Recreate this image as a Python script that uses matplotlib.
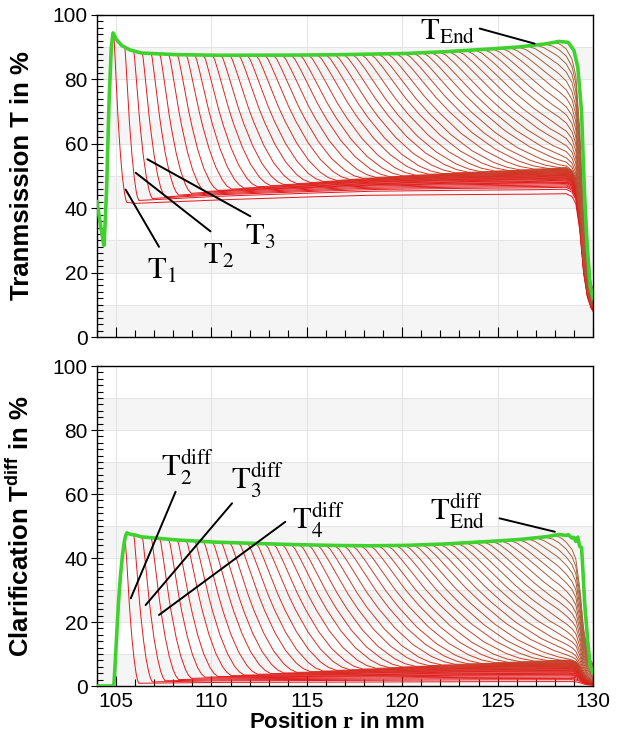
import numpy as np
import matplotlib
matplotlib.use("Agg")
import matplotlib.pyplot as plt
from matplotlib.colors import LinearSegmentedColormap

plt.rcParams['font.family'] = ['Liberation Sans', 'DejaVu Sans']
plt.rcParams['mathtext.fontset'] = 'custom'
plt.rcParams['mathtext.rm'] = 'Liberation Sans:bold'
plt.rcParams['mathtext.it'] = 'Liberation Sans:bold'
plt.rcParams['mathtext.bf'] = 'Liberation Sans:bold'

# ---------------- data ----------------
# final (end) transmission profile T_End
end_r = [104.0, 104.15, 104.37, 104.5, 104.63, 104.75, 104.84, 105.0, 105.3, 105.7, 106.3,
         108.0, 110.0, 113.0, 116.0, 118.0, 120.0, 122.0, 124.0, 126.0, 127.5, 128.2, 128.7,
         129.0, 129.2, 129.4, 129.55, 129.7, 129.85, 130.0]
end_T = [42, 36, 28, 45, 73, 90, 94.5, 92.5, 90.5, 89.2, 88.2,
         87.7, 87.5, 87.5, 87.6, 87.8, 88.0, 88.5, 89.2, 90.0, 91.0, 91.8, 91.5,
         89.0, 84.0, 70.0, 45.0, 28.0, 16.0, 12.0]
n_plateau = 23  # points of end profile that form the clear plateau (up to 128.7 mm)

# lower (turbid) level of the first profile T_1
low_r = [104.0, 105.3, 106.0, 108.0, 110.0, 114.0, 118.0, 122.0, 126.0, 128.7]
low_T = [42.0, 42.0, 41.5, 42.0, 42.5, 43.3, 44.0, 44.2, 44.3, 44.5]

# rise of the turbid level for the latest profiles
rise_r = [104.0, 105.0, 110.0, 116.0, 122.0, 128.7]
rise_D = [5.5, 5.5, 8.0, 8.5, 9.5, 10.0]

# drop of all red profiles at the cell bottom
wall_r = [104.0, 128.6, 128.9, 129.1, 129.3, 129.5, 129.7, 129.9, 130.0]
wall_f = [1.0, 1.0, 0.98, 0.93, 0.75, 0.45, 0.28, 0.20, 0.18]

# shape of a sedimentation front (fraction of clear level vs relative position in front)
shape_s = [-0.05, 0.0, 0.03, 0.08, 0.15, 0.25, 0.35, 0.5, 0.65, 0.8, 0.9, 1.0]
shape_G = [1.0, 0.995, 0.97, 0.90, 0.79, 0.63, 0.49, 0.31, 0.17, 0.07, 0.025, 0.0]

# position where each profile leaves the clear plateau (mm)
front_top = [104.88, 105.46, 105.93, 106.38, 106.85, 107.30, 107.77, 108.22, 108.69, 109.14,
             109.60, 110.07, 110.52, 110.98, 111.45, 111.90, 112.36, 112.83, 113.28, 113.74,
             114.21, 114.66, 115.12, 115.59, 116.04, 116.50, 116.97, 117.42, 117.88, 118.35,
             118.80, 119.26, 119.73, 120.18, 120.64, 121.11, 121.56, 122.02, 122.49, 122.94,
             123.40, 123.87, 124.32, 124.78, 125.25, 125.70, 126.16, 126.63, 127.08, 127.54,
             128.00]
# length of each front (mm)
front_len = [0.68, 0.73, 0.97, 1.19, 1.43, 1.65, 1.89, 2.11, 2.35, 2.57,
             2.80, 3.04, 3.26, 3.49, 3.73, 3.95, 4.18, 4.42, 4.64, 4.87,
             5.11, 5.33, 5.56, 5.80, 6.02, 6.25, 6.49, 6.71, 6.94, 7.18,
             7.40, 7.63, 7.87, 8.09, 8.32, 8.56, 8.78, 9.01, 9.25, 9.47,
             9.70, 9.94, 10.16, 10.39, 10.63, 10.85, 11.08, 11.32, 11.54, 11.77,
             12.00]
# relative rise of the turbid level of each profile
level_rise = [0.00, 0.14, 0.20, 0.24, 0.28, 0.32, 0.35, 0.37, 0.40, 0.42,
              0.45, 0.47, 0.49, 0.51, 0.53, 0.55, 0.57, 0.58, 0.60, 0.62,
              0.63, 0.65, 0.66, 0.68, 0.69, 0.71, 0.72, 0.73, 0.75, 0.76,
              0.77, 0.79, 0.80, 0.81, 0.82, 0.84, 0.85, 0.86, 0.87, 0.88,
              0.89, 0.91, 0.92, 0.93, 0.94, 0.95, 0.96, 0.97, 0.98, 0.99,
              1.00]

x_ticks = [105, 110, 115, 120, 125, 130]
y_ticks = [0, 20, 40, 60, 80, 100]

# ---------------- build profiles ----------------
r = np.linspace(104.0, 130.0, 1600)
plateau = np.interp(r, end_r[:n_plateau], end_T[:n_plateau])
wall = np.interp(r, wall_r, wall_f)
low1 = np.interp(r, low_r, low_T)
rise = np.interp(r, rise_r, rise_D)
T_end = np.interp(r, end_r, end_T)

profiles = []
for p, w, f in zip(front_top, front_len, level_rise):
    s = (r - p) / w
    G = np.interp(s, shape_s, shape_G, left=1.0, right=0.0)
    L = low1 + f * rise
    profiles.append((L + (plateau - L) * G) * wall)
T1 = profiles[0]

cmap = LinearSegmentedColormap.from_list('rb', ['#e8141a', '#cf3a26', '#a2643c'])
n = len(profiles)
green = '#3fd22e'

fig = plt.figure(figsize=(6.17, 7.56), dpi=100)
ax1 = fig.add_axes([97/617, 1-337/756, 496/617, 322/756])
ax2 = fig.add_axes([97/617, 1-686/756, 496/617, 320/756])

def style(ax, labels):
    ax.set_xlim(104, 130)
    ax.set_ylim(0, 100)
    for lo in range(0, 100, 20):
        ax.axhspan(lo, lo + 10, color='#f5f5f5', lw=0, zorder=0)
    for yy in range(10, 100, 10):
        ax.axhline(yy, color='#e4e4e4', lw=0.8, zorder=0.5)
    for xx in x_ticks[:-1]:
        ax.axvline(xx, color='#e4e4e4', lw=0.8, zorder=0.5)
    ax.set_xticks(x_ticks)
    ax.set_xticks(np.arange(104, 131, 1), minor=True)
    ax.set_yticks(y_ticks)
    ax.set_yticks(np.arange(0, 101, 2), minor=True)
    ax.tick_params(axis='x', which='major', direction='in', length=7, width=0.8,
                   labelsize=15, labelbottom=labels, pad=4)
    ax.tick_params(axis='x', which='minor', direction='in', length=5, width=0.8)
    ax.tick_params(axis='y', which='major', direction='inout', length=9, width=0.8,
                   labelsize=15, pad=2)
    ax.tick_params(axis='y', which='minor', direction='in', length=4, width=0.8)
    for sp in ax.spines.values():
        sp.set_linewidth(1.0)

style(ax1, False)
style(ax2, True)

for k, T in enumerate(profiles):
    ax1.plot(r, T, color=cmap(k / (n - 1)), lw=0.7, zorder=2)
ax1.plot(r, T_end, color=green, lw=2.6, zorder=3)

for k, T in enumerate(profiles[1:], start=1):
    ax2.plot(r, T - T1, color=cmap(k / (n - 1)), lw=0.7, zorder=2)
ax2.plot(r, T_end - T1, color=green, lw=2.6, zorder=3)

ax1.set_ylabel('Tranmsission T in %', fontsize=18.5, fontweight='bold')
ax2.set_ylabel(r'Clarification T$^{\rm diff}$ in %', fontsize=18.5, fontweight='bold')
ax2.set_xlabel(r'Position $\mathbf{r}$ in mm', fontsize=16, fontweight='bold',
               math_fontfamily='stix')
ax1.yaxis.set_label_coords(-0.128, 0.5)
ax2.yaxis.set_label_coords(-0.128, 0.5)
ax2.xaxis.set_label_coords(0.484, -0.08)

tk = dict(fontsize=22, math_fontfamily='stix', ha='left', va='baseline', zorder=6)
lk = dict(arrowstyle='-', lw=1.4, color='black', shrinkA=0, shrinkB=0)

def note(ax, txt, tx, ty, x0, y0, x1, y1):
    ax.text(tx, ty, txt, **tk)
    ax.annotate('', xy=(x1, y1), xytext=(x0, y0), arrowprops=lk, zorder=5)

note(ax1, r'$\mathrm{T}_{1}$', 106.64, 18.1, 107.25, 28.0, 105.5, 45.8)
note(ax1, r'$\mathrm{T}_{2}$', 109.55, 22.8, 109.95, 32.8, 106.03, 51.0)
note(ax1, r'$\mathrm{T}_{3}$', 111.78, 28.7, 112.04, 37.5, 106.64, 55.2)
note(ax1, r'$\mathrm{T}_{\mathrm{End}}$', 120.93, 92.2, 124.06, 95.8, 126.94, 91.1)

note(ax2, r'$\mathrm{T}_{2}^{\mathrm{diff}}$', 107.34, 65.9, 108.12, 60.7, 105.77, 27.4)
note(ax2, r'$\mathrm{T}_{3}^{\mathrm{diff}}$', 111.0, 61.8, 111.08, 57.1, 106.55, 25.3)
note(ax2, r'$\mathrm{T}_{4}^{\mathrm{diff}}$', 114.2, 49.3, 113.87, 51.3, 107.25, 22.2)
note(ax2, r'$\mathrm{T}_{\mathrm{End}}^{\mathrm{diff}}$', 121.45, 51.9, 125.1, 52.4, 128.0, 48.2)

fig.savefig('out.png', dpi=100)
